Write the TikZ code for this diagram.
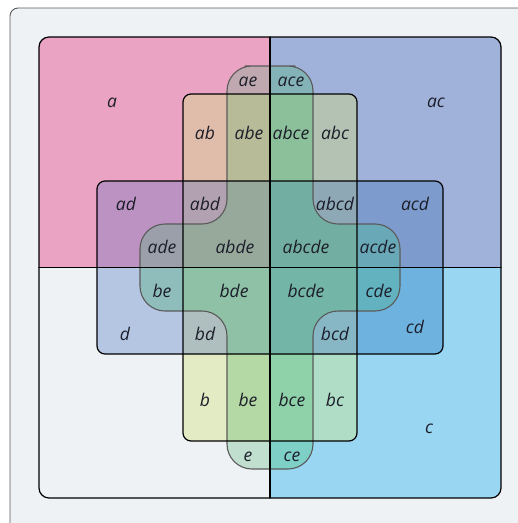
\documentclass[tikz,border=0pt]{standalone}
\usepackage{fontspec}
\setmainfont{Open Sans}
\usepackage{xcolor}
\usepackage{tikz}
\definecolor{ink}{HTML}{1C1E2A}
\definecolor{frame}{HTML}{EFF2F4}
\definecolor{rimgray}{HTML}{5A5A5A}
% one colour per region
\definecolor{rA}{HTML}{EBA3C4}
\definecolor{rB}{HTML}{E3EBC4}
\definecolor{rC}{HTML}{98D6F2}
\definecolor{rD}{HTML}{B5C6E3}
\definecolor{rE}{HTML}{C0DFCF}
\definecolor{rAB}{HTML}{E0BDAA}
\definecolor{rAC}{HTML}{A0B2DA}
\definecolor{rAD}{HTML}{BB92C1}
\definecolor{rAE}{HTML}{C0A8B0}
\definecolor{rBC}{HTML}{B0DDC5}
\definecolor{rBD}{HTML}{AFBFBF}
\definecolor{rBE}{HTML}{B5D9A4}
\definecolor{rCD}{HTML}{6EB3E0}
\definecolor{rCE}{HTML}{7ECFC5}
\definecolor{rDE}{HTML}{8EBDBC}
\definecolor{rABC}{HTML}{B3C2B2}
\definecolor{rABD}{HTML}{B2A1B0}
\definecolor{rABE}{HTML}{B8BB98}
\definecolor{rACD}{HTML}{7D9BCD}
\definecolor{rACE}{HTML}{83B3B6}
\definecolor{rADE}{HTML}{9A9FAA}
\definecolor{rBCD}{HTML}{87B7C5}
\definecolor{rBCE}{HTML}{8FD1A9}
\definecolor{rBDE}{HTML}{8EC1A6}
\definecolor{rCDE}{HTML}{62B3BF}
\definecolor{rABCD}{HTML}{8EA8B5}
\definecolor{rABCE}{HTML}{8CC09A}
\definecolor{rABDE}{HTML}{97A99A}
\definecolor{rACDE}{HTML}{69A8B7}
\definecolor{rBCDE}{HTML}{73B5A6}
\definecolor{rABCDE}{HTML}{73AEA2}
\tikzset{
    every picture/.style={line cap=round,line join=round},
    setline/.style={draw=black,line width=1.2pt},
    eline/.style={draw=rimgray,line width=1.1pt},
    framebox/.style={fill=frame,draw=rimgray,line width=0.9pt,rounded corners=8pt},
    lbl/.style={inner sep=0pt,text=ink,font=\fontsize{17.5}{20}\selectfont\itshape}
}
\newcommand\crosspath{(270,66) -- (313,66) -- (313,224) -- (400,224) -- (400,311)
  -- (313,311) -- (313,469) -- (227,469) -- (227,311) -- (140,311) -- (140,224)
  -- (227,224) -- (227,66) -- cycle}
\newcommand\clipA{\clip (39,37) rectangle (501,267.5);}
\newcommand\clipB{\clip[rounded corners=8pt] (183,94) rectangle (357,441);}
\newcommand\clipC{\clip (270,37) rectangle (501,498);}
\newcommand\clipD{\clip[rounded corners=8pt] (97,181) rectangle (443,354);}
\newcommand\clipE{\clip[rounded corners=25pt] \crosspath;}
\newcommand\region[2]{\begin{scope}#1\fill[#2] (0,0) rectangle (518,523);\end{scope}}

\begin{document}
\begin{tikzpicture}[x=1pt,y=-1pt]
  \useasboundingbox (0,0) rectangle (518,523);
  \clip (0,0) rectangle (518,523);
  \path[framebox] (10,8) rectangle (545,550);
  % regions, fewer sets first
  \begin{scope}
    \clip[rounded corners=10pt] (39,37) rectangle (501,498);
    \region{\clipA}{rA}
    \region{\clipB}{rB}
    \region{\clipC}{rC}
    \region{\clipD}{rD}
    \region{\clipE}{rE}
    \region{\clipA\clipB}{rAB}
    \region{\clipA\clipC}{rAC}
    \region{\clipA\clipD}{rAD}
    \region{\clipA\clipE}{rAE}
    \region{\clipB\clipC}{rBC}
    \region{\clipB\clipD}{rBD}
    \region{\clipB\clipE}{rBE}
    \region{\clipC\clipD}{rCD}
    \region{\clipC\clipE}{rCE}
    \region{\clipD\clipE}{rDE}
    \region{\clipA\clipB\clipC}{rABC}
    \region{\clipA\clipB\clipD}{rABD}
    \region{\clipA\clipB\clipE}{rABE}
    \region{\clipA\clipC\clipD}{rACD}
    \region{\clipA\clipC\clipE}{rACE}
    \region{\clipA\clipD\clipE}{rADE}
    \region{\clipB\clipC\clipD}{rBCD}
    \region{\clipB\clipC\clipE}{rBCE}
    \region{\clipB\clipD\clipE}{rBDE}
    \region{\clipC\clipD\clipE}{rCDE}
    \region{\clipA\clipB\clipC\clipD}{rABCD}
    \region{\clipA\clipB\clipC\clipE}{rABCE}
    \region{\clipA\clipB\clipD\clipE}{rABDE}
    \region{\clipA\clipC\clipD\clipE}{rACDE}
    \region{\clipB\clipC\clipD\clipE}{rBCDE}
    \region{\clipA\clipB\clipC\clipD\clipE}{rABCDE}
  \end{scope}
  % outlines
  \draw[eline,rounded corners=25pt] \crosspath;
  \draw[setline,rounded corners=8pt] (183,94) rectangle (357,441);
  \draw[setline,rounded corners=8pt] (97,181) rectangle (443,354);
  \draw[setline] (39,267.5) -- (501,267.5) (270,37) -- (270,498);
  \draw[setline,rounded corners=10pt] (39,37) rectangle (501,498);
  % labels
  \foreach \x/\y/\t [count=\i] in {112/103/a,436/103/ac,248/82/ae,291/82/ace,
      205/133/ab,249/133/abe,291/133/abce,335/133/abc,
      126/204/ad,205/204/abd,335/204/abcd,415/204/acd,
      162/247/ade,235/247/abde,306/247/abcde,378/247/acde,
      162/291/be,234/291/bde,306/291/bcde,379/291/cde,
      125/334/d,205/334/bd,335/334/bcd,415/327/cd,
      205/400/b,248/400/be,292/400/bce,335/400/bc,
      248/457/e,292/457/ce,429/429/c}
    \node[lbl] (r\i) at (\x,\y) {\t};
\end{tikzpicture}
\end{document}
